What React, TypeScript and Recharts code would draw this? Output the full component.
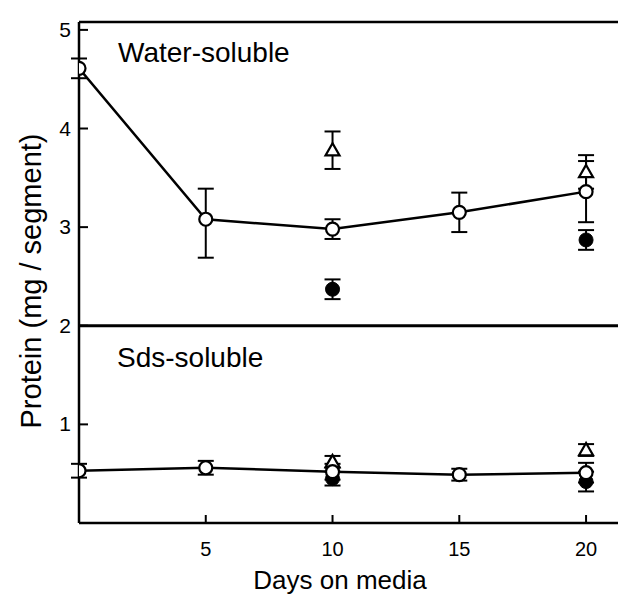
import React from 'react';
import { ComposedChart, Scatter, XAxis, YAxis, ErrorBar, ReferenceLine, Customized } from 'recharts';

// ---- data ----
const days = [0, 5, 10, 15, 20];
const waterControl = [4.61, 3.08, 2.98, 3.15, 3.36];
const waterControlErr: (number | [number, number])[] = [0.1, [0.39, 0.31], 0.1, 0.2, 0.31];

const extraDays = [10, 20];
const waterTriangle = [3.78, 3.56];
const waterTriangleErr = [0.19, 0.17];
const waterFilled = [2.37, 2.87];
const waterFilledErr = [0.1, 0.1];

const sdsControl = [0.53, 0.56, 0.52, 0.49, 0.51];
const sdsControlErr = [0.07, 0.07, 0.08, 0.06, 0.1];
const sdsTriangle = [0.62, 0.74];
const sdsTriangleErr = [0.06, 0.06];
const sdsFilled = [0.45, 0.42];
const sdsFilledErr = [0.07, 0.1];

const xTicks = [5, 10, 15, 20];
const yTicks = [1, 2, 3, 4, 5];
const xMax = 21.26;
const yMax = 5.08;
const divider = 2;

const panelLabels = ['Water-soluble', 'Sds-soluble'];
const xTitle = 'Days on media';
const yTitle = 'Protein (mg / segment)';

const build = (xs: number[], ys: number[], es: any[]) =>
  xs.map((d, i) => ({ day: d, v: ys[i], err: es[i] }));

const FONT = '"Liberation Sans", Arial, sans-serif';

const OpenCircle = (p: any) => (
  <circle cx={p.cx} cy={p.cy} r={6.5} fill="#fff" stroke="#000" strokeWidth={2.2} />
);
const FilledCircle = (p: any) => (
  <circle cx={p.cx} cy={p.cy} r={7} fill="#000" stroke="#000" strokeWidth={1} />
);
const Triangle = (p: any) => {
  const s = 7;
  const pts = `${p.cx},${p.cy - s} ${p.cx - s},${p.cy + s * 0.75} ${p.cx + s},${p.cy + s * 0.75}`;
  return <polygon points={pts} fill="#fff" stroke="#000" strokeWidth={2.2} />;
};

const YTick = (p: any) => (
  <g>
    <line x1={p.x} x2={p.x + 9} y1={p.y} y2={p.y} stroke="#000" strokeWidth={2} />
    <text x={p.x - 8} y={p.y + 7} textAnchor="end" fontSize={21} fontFamily={FONT} fill="#000">
      {p.payload.value}
    </text>
  </g>
);

const XTick = (p: any) => (
  <g>
    <line x1={p.x} x2={p.x} y1={p.y} y2={p.y - 8} stroke="#000" strokeWidth={2} />
    <text x={p.x} y={p.y + 33} textAnchor="middle" fontSize={20} fontFamily={FONT} fill="#000">
      {p.payload.value}
    </text>
  </g>
);

const Annotations = () => (
  <g fontFamily={FONT} fill="#000">
    <text x={118} y={62} fontSize={28}>{panelLabels[0]}</text>
    <text x={117} y={367} fontSize={28}>{panelLabels[1]}</text>
    <text x={340} y={589} fontSize={26} textAnchor="middle">{xTitle}</text>
    <text x={41} y={281} fontSize={29} textAnchor="middle" transform="rotate(-90 41 281)">{yTitle}</text>
  </g>
);

export default function App() {
  const line = { stroke: '#000', strokeWidth: 2.5 };
  return (
    <div style={{ position: 'absolute', left: 0, top: 0, background: '#fff' }}>
      <ComposedChart width={618} height={594} margin={{ top: 22, right: 0, left: 0, bottom: 0 }}>
        <XAxis
          type="number"
          dataKey="day"
          domain={[0, xMax]}
          ticks={xTicks}
          allowDataOverflow
          height={71}
          tickSize={0}
          tickMargin={0}
          tickLine={false}
          axisLine={{ stroke: '#000', strokeWidth: 2.5 }}
          tick={<XTick />}
        />
        <YAxis
          type="number"
          dataKey="v"
          domain={[0, yMax]}
          ticks={yTicks}
          allowDataOverflow
          width={79}
          tickSize={0}
          tickMargin={0}
          tickLine={false}
          axisLine={{ stroke: '#000', strokeWidth: 2.5 }}
          tick={<YTick />}
        />
        <ReferenceLine y={yMax} stroke="#000" strokeWidth={2.5} />
        <ReferenceLine y={divider} stroke="#000" strokeWidth={3} />

        <Scatter data={build(extraDays, waterFilled, waterFilledErr)} shape={<FilledCircle />} isAnimationActive={false}>
          <ErrorBar dataKey="err" direction="y" width={8} stroke="#000" strokeWidth={2} />
        </Scatter>
        <Scatter data={build(extraDays, waterTriangle, waterTriangleErr)} shape={<Triangle />} isAnimationActive={false}>
          <ErrorBar dataKey="err" direction="y" width={8} stroke="#000" strokeWidth={2} />
        </Scatter>
        <Scatter data={build(days, waterControl, waterControlErr)} shape={<OpenCircle />} line={line} lineType="joint" isAnimationActive={false}>
          <ErrorBar dataKey="err" direction="y" width={8} stroke="#000" strokeWidth={2} />
        </Scatter>

        <Scatter data={build(extraDays, sdsFilled, sdsFilledErr)} shape={<FilledCircle />} isAnimationActive={false}>
          <ErrorBar dataKey="err" direction="y" width={8} stroke="#000" strokeWidth={2} />
        </Scatter>
        <Scatter data={build(extraDays, sdsTriangle, sdsTriangleErr)} shape={<Triangle />} isAnimationActive={false}>
          <ErrorBar dataKey="err" direction="y" width={8} stroke="#000" strokeWidth={2} />
        </Scatter>
        <Scatter data={build(days, sdsControl, sdsControlErr)} shape={<OpenCircle />} line={line} lineType="joint" isAnimationActive={false}>
          <ErrorBar dataKey="err" direction="y" width={8} stroke="#000" strokeWidth={2} />
        </Scatter>

        <Customized component={Annotations} />
      </ComposedChart>
    </div>
  );
}
